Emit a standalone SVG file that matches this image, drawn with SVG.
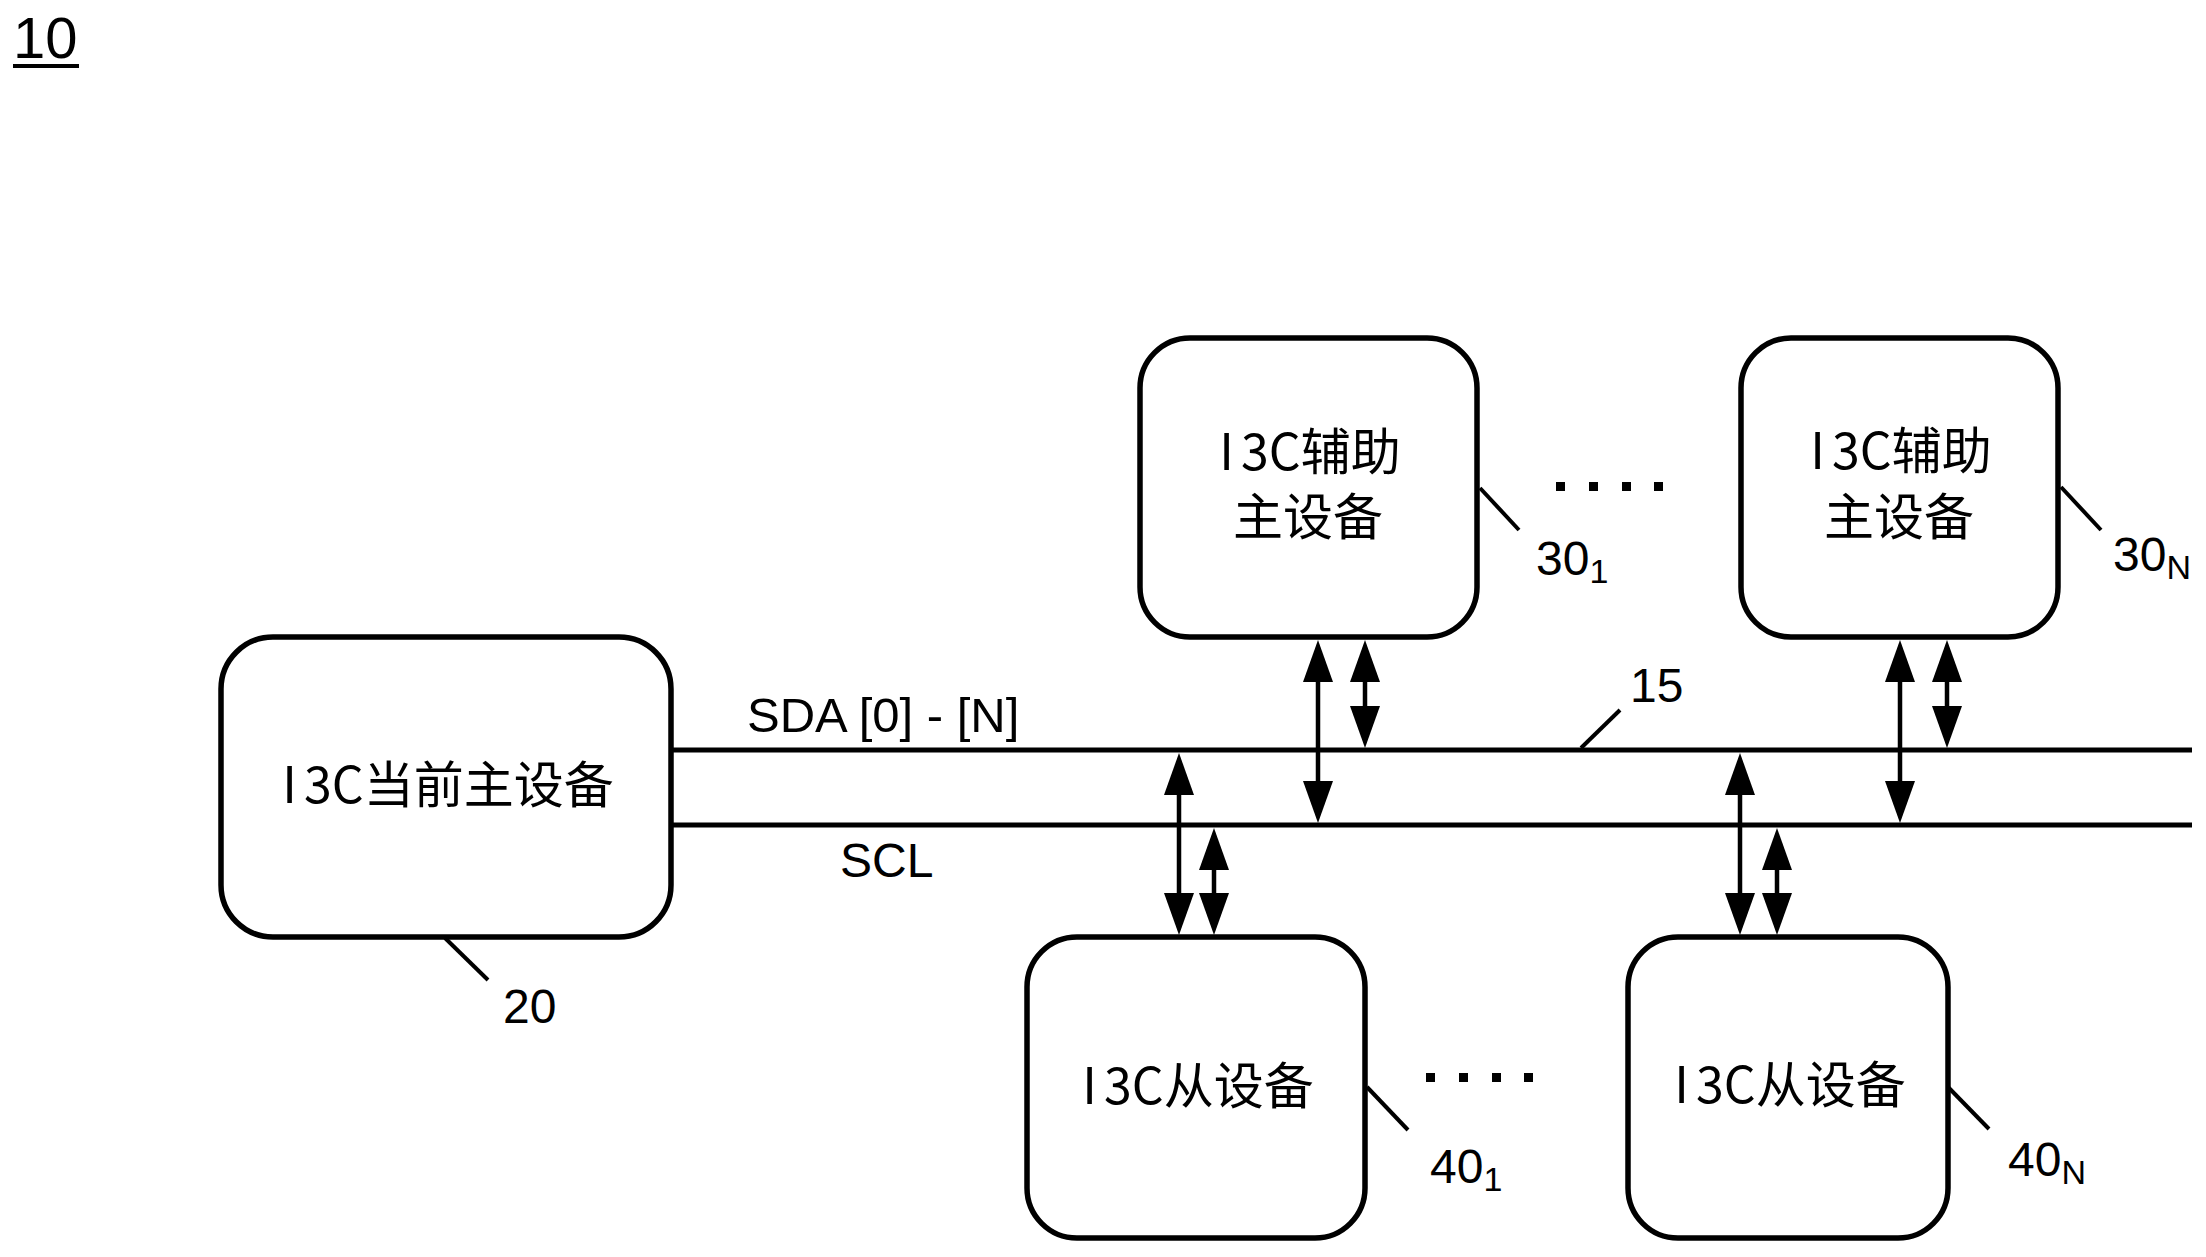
<svg xmlns="http://www.w3.org/2000/svg" width="2206" height="1257" viewBox="0 0 2206 1257">
<style>
.box{fill:#fff;stroke:#000;stroke-width:5.5}
.bus{stroke:#000;stroke-width:5;fill:none}
.arr{stroke:#000;stroke-width:4.5;fill:none;marker-start:url(#ah);marker-end:url(#ah)}
.lead{stroke:#000;stroke-width:4;fill:none}
.cjk{font-family:"Noto Sans CJK SC","Noto Sans CJK JP",sans-serif;font-size:50px;fill:#000;text-anchor:middle}
.lbl{font-family:"Liberation Sans",Arial,sans-serif;font-size:48px;fill:#000}
.sub{font-size:34px}
.dot{fill:#000}
</style>
<defs>
<marker id="ah" markerUnits="userSpaceOnUse" viewBox="0 0 42 30" markerWidth="42" markerHeight="30" refX="22" refY="15" orient="auto-start-reverse">
<path d="M0,0 L42,15 L0,30 z" fill="#000"/>
</marker>
</defs>
<rect width="2206" height="1257" fill="#fff"/>

<g id="fig-label">
<text class="lbl" x="13" y="58" style="font-size:58px">10</text>
<line x1="13" y1="66" x2="79" y2="66" stroke="#000" stroke-width="4"/>
</g>

<g id="connectors">
<line class="bus" x1="671" y1="750" x2="2192" y2="750"/>
<line class="bus" x1="671" y1="825" x2="2192" y2="825"/>
<line class="arr" x1="1179" y1="773" x2="1179" y2="915"/>
<line class="arr" x1="1214" y1="848" x2="1214" y2="915"/>
<line class="arr" x1="1318" y1="660" x2="1318" y2="803"/>
<line class="arr" x1="1365" y1="660" x2="1365" y2="728"/>
<line class="arr" x1="1900" y1="660" x2="1900" y2="803"/>
<line class="arr" x1="1947" y1="660" x2="1947" y2="728"/>
<line class="arr" x1="1740" y1="773" x2="1740" y2="915"/>
<line class="arr" x1="1777" y1="848" x2="1777" y2="915"/>
</g>

<g id="bus-labels">
<text class="lbl" x="747" y="732" style="font-size:49px">SDA [0] - [N]</text>
<text class="lbl" x="840" y="877">SCL</text>
<line class="lead" x1="1581" y1="748" x2="1620" y2="710"/>
<text class="lbl" x="1630" y="702">15</text>
</g>

<g id="node-20">
<rect class="box" x="221" y="637" width="450" height="300" rx="52"/>
<text class="cjk" x="448" y="803">I<tspan dx="7">3C当前主设备</tspan></text>
<line class="lead" x1="445" y1="938" x2="488" y2="980"/>
<text class="lbl" x="503" y="1023">20</text>
</g>

<g id="node-30-1">
<rect class="box" x="1140" y="338" width="337" height="299" rx="50"/>
<text class="cjk" x="1310" y="470">I<tspan dx="7">3C辅助</tspan></text>
<text class="cjk" x="1308" y="535">主设备</text>
<line class="lead" x1="1480" y1="488" x2="1519" y2="530"/>
<text class="lbl" x="1536" y="575">30<tspan class="sub" dy="8">1</tspan></text>
</g>

<g id="dots-30">
<rect class="dot" x="1556" y="482" width="9" height="9"/>
<rect class="dot" x="1589" y="482" width="9" height="9"/>
<rect class="dot" x="1622" y="482" width="9" height="9"/>
<rect class="dot" x="1654" y="482" width="9" height="9"/>
</g>

<g id="node-30-n">
<rect class="box" x="1741" y="338" width="317" height="299" rx="50"/>
<text class="cjk" x="1901" y="469">I<tspan dx="7">3C辅助</tspan></text>
<text class="cjk" x="1899" y="535">主设备</text>
<line class="lead" x1="2061" y1="487" x2="2101" y2="530"/>
<text class="lbl" x="2113" y="571">30<tspan class="sub" dy="8">N</tspan></text>
</g>

<g id="node-40-1">
<rect class="box" x="1027" y="937" width="338" height="301" rx="50"/>
<text class="cjk" x="1198" y="1104">I<tspan dx="7">3C从设备</tspan></text>
<line class="lead" x1="1367" y1="1087" x2="1408" y2="1130"/>
<text class="lbl" x="1430" y="1183">40<tspan class="sub" dy="8">1</tspan></text>
</g>

<g id="dots-40">
<rect class="dot" x="1426" y="1073" width="9" height="9"/>
<rect class="dot" x="1459" y="1073" width="9" height="9"/>
<rect class="dot" x="1492" y="1073" width="9" height="9"/>
<rect class="dot" x="1524" y="1073" width="9" height="9"/>
</g>

<g id="node-40-n">
<rect class="box" x="1628" y="937" width="320" height="301" rx="50"/>
<text class="cjk" x="1790" y="1103">I<tspan dx="7">3C从设备</tspan></text>
<line class="lead" x1="1948" y1="1087" x2="1989" y2="1129"/>
<text class="lbl" x="2008" y="1176">40<tspan class="sub" dy="8">N</tspan></text>
</g>
</svg>
